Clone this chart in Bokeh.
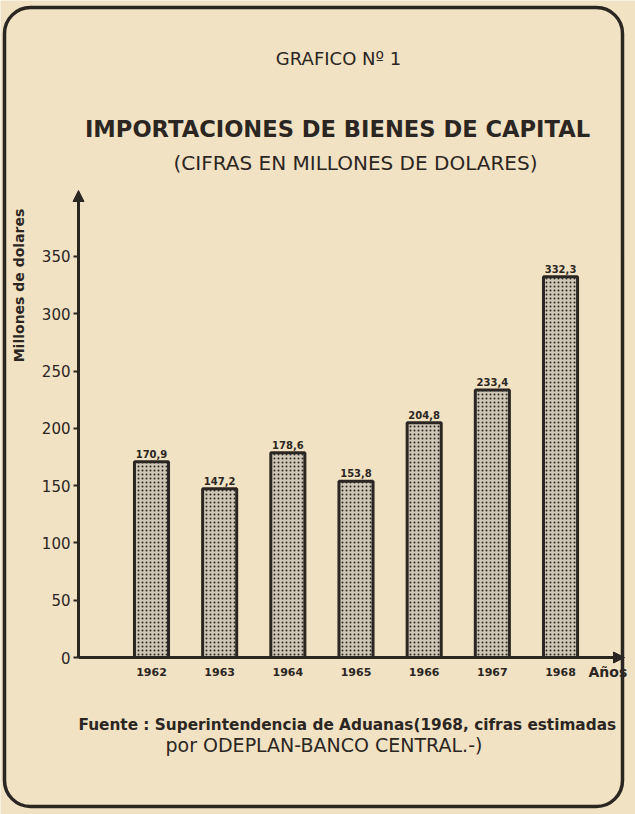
import math
from bokeh.plotting import figure
from bokeh.models import (Range1d, LinearAxis, FixedTicker, Label, Arrow, NormalHead,
                          BoxAnnotation, ColumnDataSource)
from bokeh.core.properties import value
from bokeh.embed import file_html
from bokeh.resources import INLINE

# ---- data ----
years = ["1962", "1963", "1964", "1965", "1966", "1967", "1968"]
imports = [170.9, 147.2, 178.6, 153.8, 204.8, 233.4, 332.3]
y_ticks = [0, 50, 100, 150, 200, 250, 300, 350]
value_labels = [f"{v:.1f}".replace(".", ",") for v in imports]

# ---- layout constants (pixels) ----
W, H = 635, 814
Y0PX = 657.0          # canvas y of value 0
PPU_Y = 57.3 / 50.0   # px per unit
X0PX = 151.0          # canvas x of first bar centre
PPU_X = 68.17         # px per bar slot

def X(px):
    return (px - X0PX) / PPU_X

def Y(py):
    return (Y0PX - py) / PPU_Y

PAPER = "#f2e2c4"
INK = "#2b2622"
FONT = "DejaVu Sans"

p = figure(width=W, height=H, output_backend="svg", toolbar_location=None,
           x_range=Range1d(X(0), X(W)),
           y_range=Range1d(Y(H), Y(0)),
           x_axis_type=None, y_axis_type=None, min_border=0,
           background_fill_color=PAPER, border_fill_color=PAPER,
           outline_line_color=None)
p.grid.visible = False

xs = list(range(len(years)))
src = ColumnDataSource(dict(x=xs, top=imports, lab=value_labels))

p.vbar(x="x", top="top", width=0.5, source=src,
       fill_color="#cfc6b6", hatch_pattern="dot", hatch_color=INK,
       hatch_scale=4, hatch_weight=3.6,
       line_color=INK, line_width=3)

p.text(x="x", y="top", text="lab", source=src, y_offset=-4,
       text_align="center", text_baseline="bottom",
       text_font=value(FONT), text_font_style="bold",
       text_font_size="10px", text_color=INK)

yax_x = X(78)

# y axis (ticks + labels)
yaxis = LinearAxis(ticker=FixedTicker(ticks=y_ticks), fixed_location=yax_x,
                   axis_line_alpha=0, major_tick_in=0, major_tick_out=5,
                   major_tick_line_width=2, major_tick_line_color=INK,
                   minor_tick_line_color=None,
                   major_label_text_font=FONT, major_label_text_font_size="15px",
                   major_label_text_color=INK, major_label_standoff=3)
p.add_layout(yaxis, "left")

# x axis (year labels)
xaxis = LinearAxis(ticker=FixedTicker(ticks=xs), fixed_location=0,
                   major_label_overrides={i: y for i, y in enumerate(years)},
                   axis_line_alpha=0, major_tick_line_color=None,
                   minor_tick_line_color=None,
                   major_label_text_font=FONT, major_label_text_font_style="bold",
                   major_label_text_font_size="11px", major_label_text_color=INK,
                   major_label_standoff=4)
p.add_layout(xaxis, "below")

# axis lines with arrows
p.add_layout(Arrow(x_start=yax_x, y_start=0, x_end=yax_x, y_end=Y(190),
                   line_color=INK, line_width=3,
                   end=NormalHead(size=11, fill_color=INK, line_color=INK)))
p.add_layout(Arrow(x_start=yax_x, y_start=0, x_end=X(624), y_end=0,
                   line_color=INK, line_width=3,
                   end=NormalHead(size=11, fill_color=INK, line_color=INK)))

def lab(text, xpx, ypx, size, bold=False, align="left", baseline="alphabetic", angle=0):
    p.add_layout(Label(x=X(xpx), y=Y(ypx), text=text, text_font=FONT,
                       text_font_size=f"{size}px",
                       text_font_style="bold" if bold else "normal",
                       text_color=INK, text_align=align, text_baseline=baseline,
                       angle=angle))

lab("GRAFICO Nº 1", 338, 58, 18, align="center")
lab("IMPORTACIONES DE BIENES DE CAPITAL", 337, 128, 22.6, bold=True, align="center")
lab("(CIFRAS EN MILLONES DE DOLARES)", 355, 162, 20, align="center")
lab("Millones de dolares", 18, 285, 14, bold=True, align="center",
    baseline="middle", angle=math.pi / 2)
lab("Años", 588, 671, 14, bold=True)
lab("Fuente : Superintendencia de Aduanas(1968, cifras estimadas", 78, 724, 15.3, bold=True)
lab("por ODEPLAN-BANCO CENTRAL.-)", 165, 744, 19)

# rounded frame
p.add_layout(BoxAnnotation(left=X(4), right=X(622), top=Y(7), bottom=Y(806),
                           fill_alpha=0, line_color=INK, line_alpha=1,
                           line_width=3.5, border_radius=26))

open("out.html", "w").write(file_html(p, INLINE))
